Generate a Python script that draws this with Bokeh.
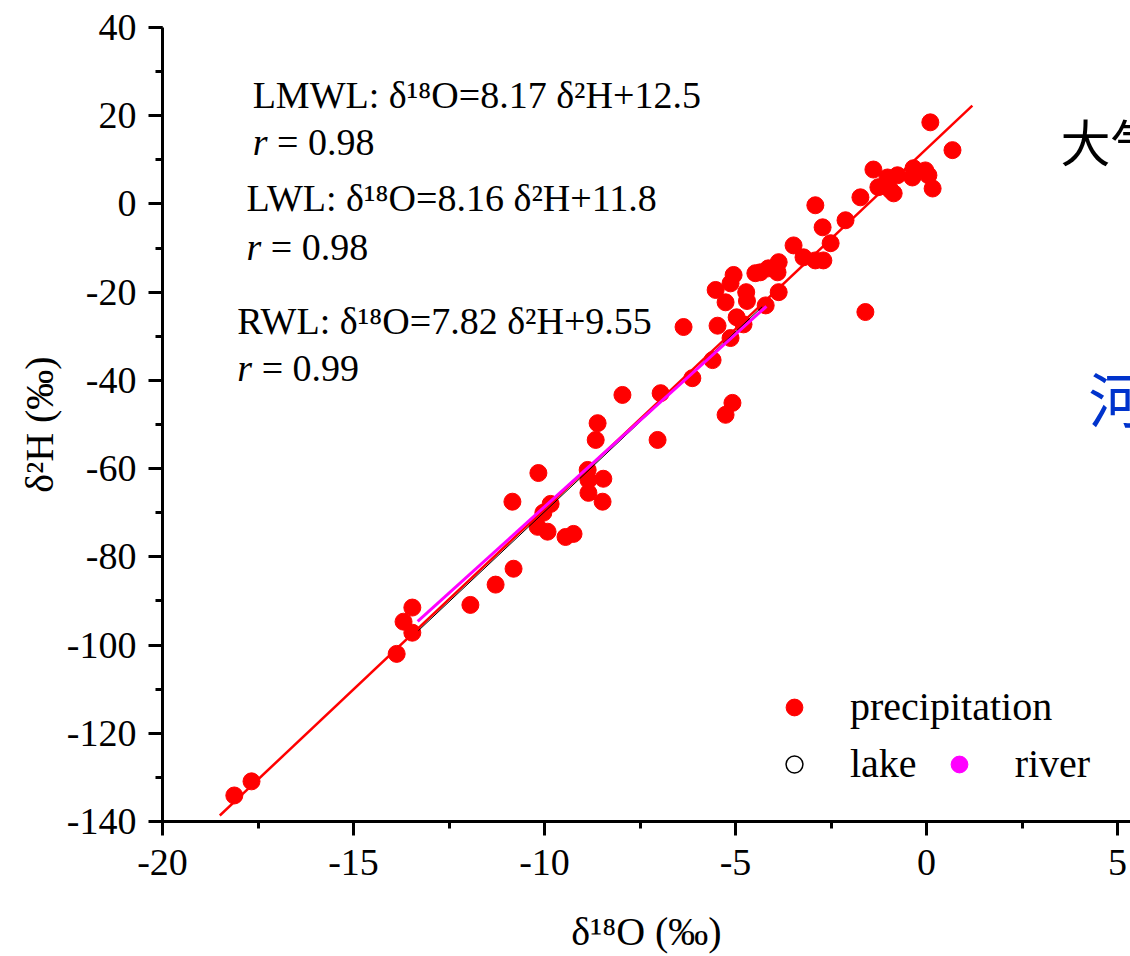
from bokeh.plotting import figure
from bokeh.models import (Range1d, SingleIntervalTicker, Label, Legend, LegendItem,
                          CustomJSTickFormatter)
from bokeh.embed import file_html
from bokeh.resources import INLINE

# ---- data ----
precip_d18O = [-18.12, -17.67, -13.87, -13.69, -13.46, -13.46, -11.94, -11.28, -10.81, -10.84,
               -10.16, -10.18, -10.03, -9.92, -9.84, -9.45, -9.24, -8.87, -8.85, -8.85,
               -8.46, -8.48, -8.61, -8.66, -7.96, -6.96, -7.04, -6.13, -6.36, -5.60,
               -5.13, -5.08, -5.26, -5.52, -5.47, -5.26, -5.05, -5.13, -4.97, -4.79,
               -4.72, -4.70, -4.21, -3.87, -4.48, -4.35, -4.14, -3.90, -3.87, -3.48,
               -3.22, -2.91, -2.70, -2.51, -2.72, -2.12, -2.91, -1.73, -1.60, -1.39,
               -1.26, -1.02, -0.94, -0.86, -0.76, -0.34, -0.37, -0.03, 0.05, 0.16,
               0.10, 0.68]
precip_d2H = [-134.1, -130.9, -102.0, -94.7, -91.5, -97.2, -90.9, -86.3, -82.7, -67.5,
              -61.0, -73.2, -70.0, -74.3, -68.0, -75.5, -74.8, -60.3, -62.6, -65.5,
              -62.3, -67.5, -49.7, -53.5, -43.3, -42.9, -53.5, -39.5, -27.9, -35.4,
              -30.4, -45.1, -47.8, -19.5, -27.6, -22.3, -16.1, -18.0, -25.7, -27.3,
              -20.0, -22.0, -23.0, -20.0, -15.7, -15.5, -14.6, -15.5, -13.2, -9.4,
              -12.1, -12.8, -12.8, -8.9, -5.3, -3.7, -0.3, 1.5, -24.5, 7.8,
              3.8, 6.0, 3.1, 2.4, 6.5, 8.1, 6.0, 7.6, 6.5, 3.5,
              18.5, 12.2]
# no lake / river sample points fall inside the visible window
lake_d18O = []
lake_d2H = []
river_d18O = []
river_d2H = []

line_names = ["LMWL", "LWL", "RWL"]
line_slopes = [8.17, 8.16, 7.82]
line_intercepts = [12.5, 11.8, 9.55]
line_r = ["0.98", "0.98", "0.99"]
line_x_start = [-18.5, -13.3, -13.32]
line_x_end = [1.2, -4.3, -4.19]
line_colors = ["red", "black", "magenta"]
line_widths = [2.5, 1, 3]

SERIF = "Liberation Serif"
NAN = float("nan")

p = figure(width=1130, height=956, x_range=Range1d(-20, 5.34), y_range=Range1d(-140, 40),
           output_backend="svg", toolbar_location=None,
           min_border_left=162, min_border_right=0, min_border_top=27, min_border_bottom=134)
p.outline_line_color = None
p.xgrid.visible = False
p.ygrid.visible = False
p.background_fill_color = "white"

p.xaxis.ticker = SingleIntervalTicker(interval=5, num_minor_ticks=2)
p.yaxis.ticker = SingleIntervalTicker(interval=20, num_minor_ticks=2)
fmt = CustomJSTickFormatter(code="return tick.toString();")
for ax in (p.xaxis[0], p.yaxis[0]):
    ax.formatter = fmt
    ax.axis_line_width = 3
    ax.major_tick_line_width = 3
    ax.minor_tick_line_width = 3
    ax.major_tick_out = 14
    ax.major_tick_in = 0
    ax.minor_tick_out = 7
    ax.minor_tick_in = 0
    ax.major_label_text_font = SERIF
    ax.major_label_text_font_size = "38px"
    ax.major_label_text_color = "black"
    ax.axis_label_text_font = SERIF
    ax.axis_label_text_font_size = "40px"
    ax.axis_label_text_font_style = "normal"
    ax.axis_label_text_color = "black"
p.xaxis.axis_label = "δ¹⁸O (‰)"
p.yaxis.axis_label = "δ²H (‰)"
p.xaxis.major_label_standoff = 14
p.xaxis.axis_label_standoff = 31
p.yaxis.major_label_standoff = 12
p.yaxis.axis_label_standoff = 2

# points
r_p = p.scatter(precip_d18O, precip_d2H, size=17, fill_color="red", line_color="red")
p.scatter(lake_d18O, lake_d2H, size=17, fill_color=None, line_color="black", line_width=1.5)
p.scatter(river_d18O, river_d2H, size=17, fill_color="magenta", line_color="magenta")
# legend-only proxies (NaN position, never drawn in the plot area)
r_l = p.scatter([NAN], [NAN], size=17, fill_color=None, line_color="black", line_width=1.5)
r_r = p.scatter([NAN], [NAN], size=17, fill_color="magenta", line_color="magenta")

# regression lines
for m, b, x0, x1, c, w in zip(line_slopes, line_intercepts, line_x_start, line_x_end, line_colors, line_widths):
    p.line([x0, x1], [m * x0 + b, m * x1 + b], line_color=c, line_width=w)

# equation annotations
eq_pos = [(-17.64, 24.61, 13.96), (-17.80, 1.29, -9.81), (-18.04, -26.56, -37.20)]
for name, m, b, r, (x, y1, y2) in zip(line_names, line_slopes, line_intercepts, line_r, eq_pos):
    p.add_layout(Label(x=x, y=y1, text=f"{name}: δ¹⁸O={m:.2f} δ²H+{b:g}",
                       text_font=SERIF, text_font_size="38px", text_color="black",
                       text_baseline="alphabetic", text_align="left"))
    p.add_layout(Label(x=x, y=y2, text="r", text_font=SERIF, text_font_style="italic",
                       text_font_size="38px", text_color="black",
                       text_baseline="alphabetic", text_align="left"))
    p.add_layout(Label(x=x, y=y2, x_offset=24.3, text=f"= {r}", text_font=SERIF,
                       text_font_size="38px", text_color="black",
                       text_baseline="alphabetic", text_align="left"))

# partially visible Chinese labels at the right edge
p.add_layout(Label(x=3.51, y=14.42, text="大气降水", text_font="Noto Sans CJK SC",
                   text_font_size="50px", text_color="black", text_baseline="middle"))
p.add_layout(Label(x=4.24, y=-43.54, text="河水", text_font="Noto Sans CJK SC",
                   text_font_size="60px", text_color="#0033cc", text_baseline="middle"))

# legends
common = dict(padding=0, margin=0, border_line_alpha=0, background_fill_alpha=0,
              glyph_width=42, glyph_height=42, label_standoff=35,
              label_text_font=SERIF, label_text_font_size="40px", label_text_color="black")
leg1 = Legend(items=[LegendItem(label="precipitation", renderers=[r_p])],
              location=(611, 91), **common)
leg2 = Legend(items=[LegendItem(label="lake", renderers=[r_l]),
                     LegendItem(label="river", renderers=[r_r])],
              orientation="horizontal", spacing=21, location=(611, 34), **common)
p.add_layout(leg1, "center")
p.add_layout(leg2, "center")

open("out.html", "w").write(file_html(p, INLINE))
